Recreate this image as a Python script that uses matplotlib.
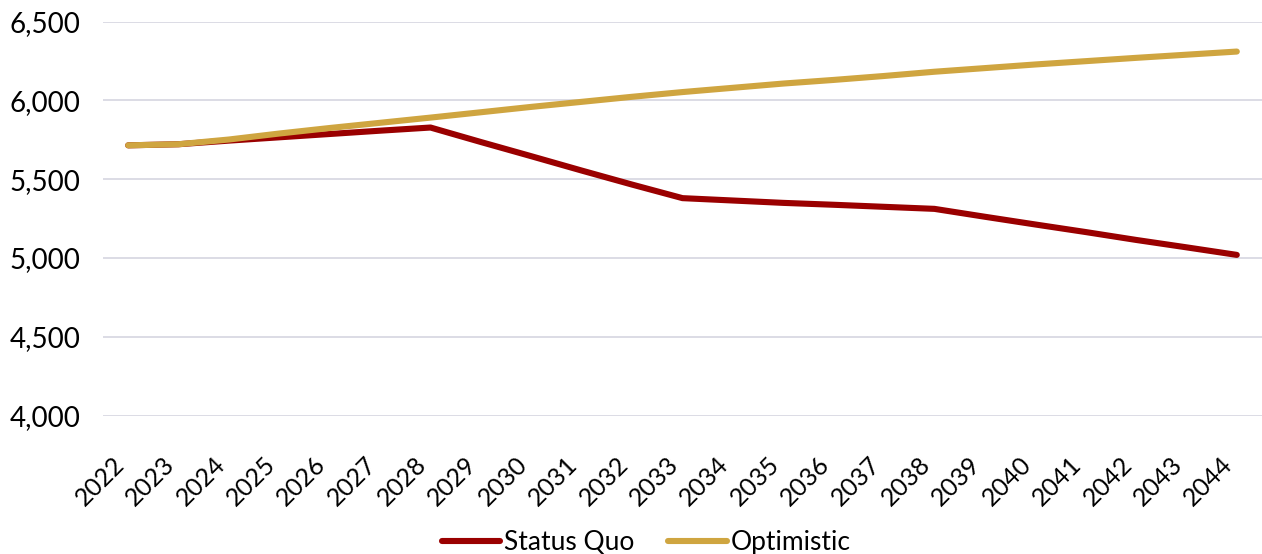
import matplotlib
matplotlib.use("Agg")
import matplotlib.pyplot as plt
from matplotlib.ticker import FuncFormatter
from matplotlib.transforms import ScaledTranslation

years = [str(y) for y in range(2022, 2045)]
status_quo = [5715, 5722, 5745, 5766, 5787, 5808, 5828, 5736, 5646, 5555, 5466, 5380,
              5365, 5350, 5338, 5325, 5312, 5262, 5213, 5165, 5115, 5068, 5020]
optimistic = [5715, 5722, 5752, 5790, 5825, 5858, 5891, 5925, 5959, 5991, 6023, 6053,
              6080, 6107, 6130, 6155, 6182, 6205, 6228, 6249, 6270, 6290, 6310]

plt.rcParams['font.family'] = ['Lato', 'DejaVu Sans']

fig = plt.figure(figsize=(12.62, 5.54), dpi=100)
ax = fig.add_axes([0.0816, 0.2497, 0.9184, 0.7113])

x = range(len(years))
ax.plot(x, status_quo, color='#9A0000', lw=4.4, solid_capstyle='round', label='Status Quo', zorder=3)
ax.plot(x, optimistic, color='#CFA540', lw=4.4, solid_capstyle='round', label='Optimistic', zorder=4)

ax.set_xlim(-0.5, len(years) - 0.5)
ax.set_ylim(4000, 6500)
ax.set_yticks(range(4000, 6501, 500))
ax.yaxis.set_major_formatter(FuncFormatter(lambda v, p: f"{int(v):,}"))
ax.set_xticks(list(x))
ax.set_xticklabels(years, rotation=45, ha='right', rotation_mode='anchor')
ax.tick_params(axis='x', length=0, pad=12, labelsize=18)
ax.tick_params(axis='y', length=0, pad=16, labelsize=20)
ax.grid(axis='y', color='#D9D9E3', lw=1.3)
ax.set_axisbelow(True)
for s in ax.spines.values():
    s.set_visible(False)

shift = ScaledTranslation(-16 / 100, -20 / 100, fig.dpi_scale_trans)
for lbl in ax.get_xticklabels():
    lbl.set_transform(lbl.get_transform() + shift)

fig.legend(loc='lower center', bbox_to_anchor=(0.512, -0.045), ncol=2, frameon=False,
           fontsize=19, handlelength=2.2, handletextpad=0.15, columnspacing=1.3)

fig.savefig('out.png', dpi=100)
